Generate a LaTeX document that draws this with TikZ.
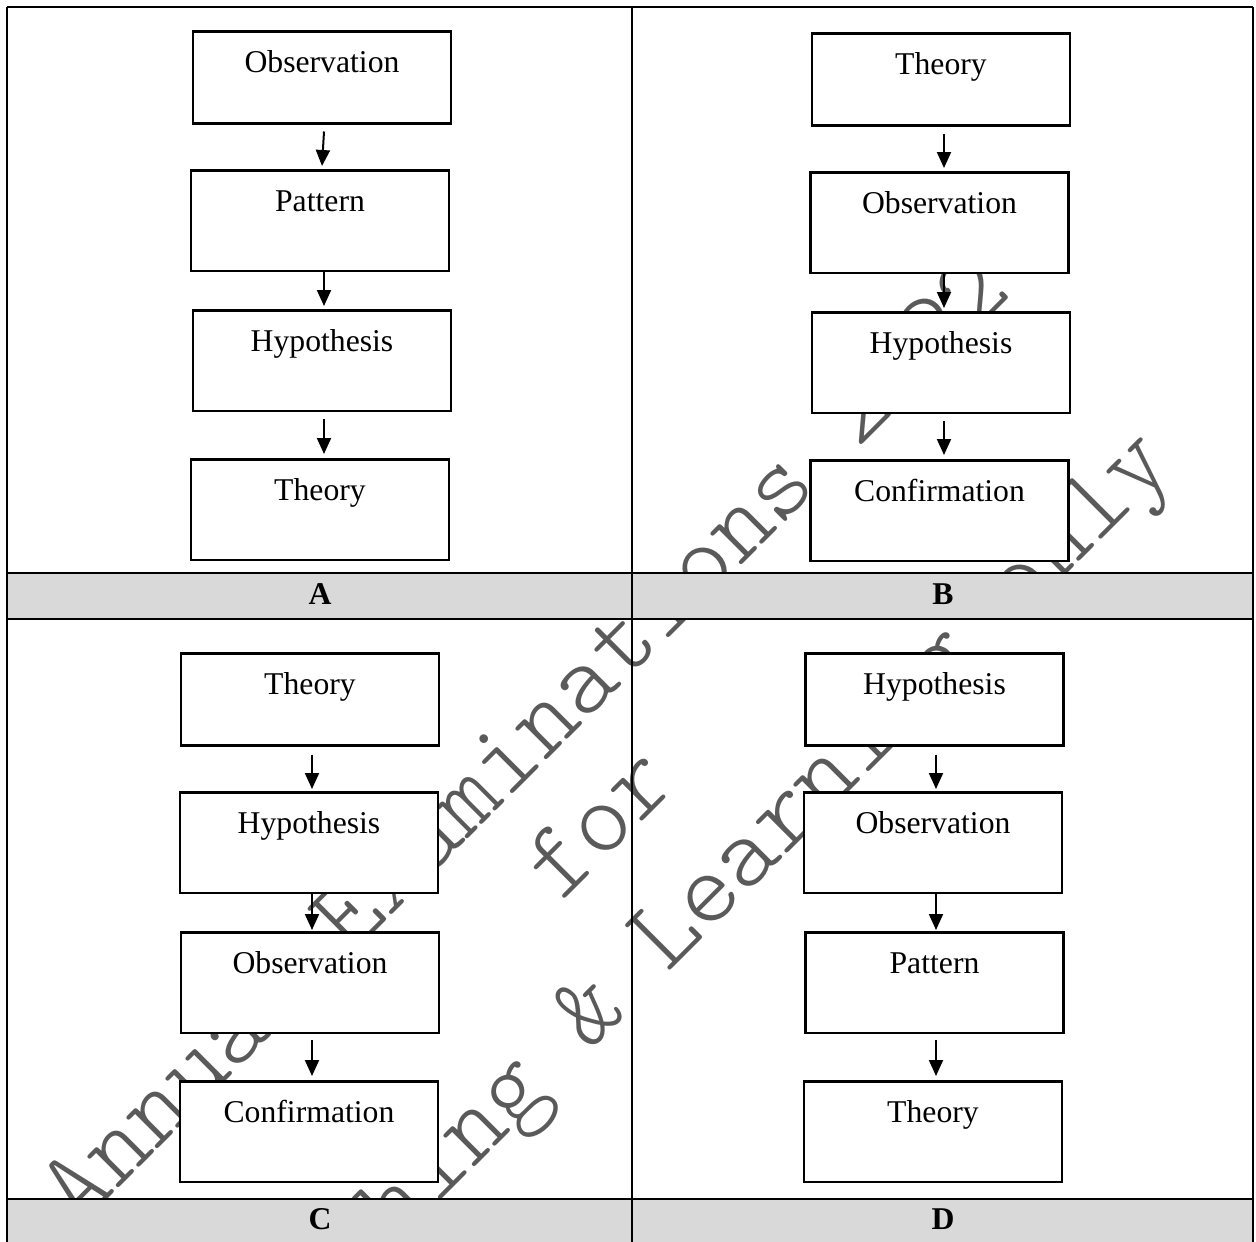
\documentclass[tikz,border=0pt]{standalone}
\usepackage{fontspec}
\setmainfont{Liberation Serif}
\newfontfamily\wmfont{lmmonolt10-regular.otf}
\usetikzlibrary{arrows.meta}
\definecolor{rowgray}{RGB}{217,217,217}
\definecolor{wmgray}{RGB}{90,90,90}
\begin{document}
\begin{tikzpicture}[x=1pt,y=-1pt,
  box/.style={draw, line width=2.5pt, fill=white, inner sep=0pt, minimum width=258pt,
    text height=41pt, text depth=59.5pt, anchor=north,
    font=\fontsize{31.7pt}{38pt}\selectfont},
  shortbox/.style={box, text depth=51pt},
  arr/.style={line width=2pt, -{Triangle[width=14pt,length=16pt]}},
  lbl/.style={font=\fontsize{31.7pt}{38pt}\selectfont\bfseries, anchor=base, inner sep=0pt},
  wm/.style={font=\fontsize{105pt}{105pt}\wmfont, text=wmgray, rotate=45, anchor=base west, inner sep=0pt},
  rule/.style={line width=2.5pt}]
\useasboundingbox (0,0) rectangle (1256,1242);
\clip (0,0) rectangle (1256,1242);
\fill[white] (0,0) rectangle (1256,1242);

% watermark
\node[wm] (w1) at (78,1229) {Annual Examinations 2022};
\node[wm] (w2) at (561,903) {for};
\node[wm] (w3) at (239,1402) {Teaching \& Learning only};

% table
\fill[rowgray] (7,573) rectangle (1253,619);
\fill[rowgray] (7,1199) rectangle (1253,1250);
\draw[rule] (7,7) -- (1253,7);
\draw[rule] (7,7) -- (7,1250);
\draw[rule] (1253,7) -- (1253,1250);
\draw[rule] (632,7) -- (632,1250);
\draw[rule] (7,573) -- (1253,573);
\draw[rule] (7,619) -- (1253,619);
\draw[rule] (7,1199) -- (1253,1199);

% panel A
\node[shortbox] (a1) at (322,30) {Observation};
\node[box] (a2) at (320,169) {Pattern};
\node[box] (a3) at (322,309) {Hypothesis};
\node[box] (a4) at (320,458) {Theory};
\draw[arr] ([xshift=2pt,yshift=-7pt]a1.south) -- ([xshift=2pt,yshift=3pt]a2.north);
\draw[arr] ([xshift=4pt]a2.south) -- ([xshift=2pt,yshift=3pt]a3.north);
\draw[arr] ([xshift=2pt,yshift=-7pt]a3.south) -- ([xshift=4pt,yshift=4pt]a4.north);

% panel B
\node[shortbox] (b1) at (941,32) {Theory};
\node[box] (b2) at (939.5,171) {Observation};
\node[box] (b3) at (941,311) {Hypothesis};
\node[box] (b4) at (939.5,459) {Confirmation};
\draw[arr] ([xshift=3pt,yshift=-7pt]b1.south) -- ([xshift=4.5pt,yshift=3pt]b2.north);
\draw[arr] ([xshift=4.5pt]b2.south) -- ([xshift=3pt,yshift=3pt]b3.north);
\draw[arr] ([xshift=3pt,yshift=-7pt]b3.south) -- ([xshift=4.5pt,yshift=4pt]b4.north);

% panel C
\node[shortbox] (c1) at (310,652) {Theory};
\node[box] (c2) at (309,791) {Hypothesis};
\node[box] (c3) at (310,931) {Observation};
\node[box] (c4) at (309,1080) {Confirmation};
\draw[arr] ([xshift=2pt,yshift=-8pt]c1.south) -- ([xshift=3pt,yshift=2pt]c2.north);
\draw[arr] ([xshift=3pt]c2.south) -- ([xshift=2pt,yshift=1pt]c3.north);
\draw[arr] ([xshift=2pt,yshift=-6pt]c3.south) -- ([xshift=3pt,yshift=4pt]c4.north);

% panel D
\node[shortbox] (d1) at (934.5,652) {Hypothesis};
\node[box] (d2) at (933,791) {Observation};
\node[box] (d3) at (934.5,931) {Pattern};
\node[box] (d4) at (933,1080) {Theory};
\draw[arr] ([xshift=1.5pt,yshift=-8pt]d1.south) -- ([xshift=3pt,yshift=2pt]d2.north);
\draw[arr] ([xshift=3pt]d2.south) -- ([xshift=1.5pt,yshift=1pt]d3.north);
\draw[arr] ([xshift=1.5pt,yshift=-6pt]d3.south) -- ([xshift=3pt,yshift=4pt]d4.north);

% labels
\node[lbl] (la) at (320,604) {A};
\node[lbl] (lb) at (943,604) {B};
\node[lbl] (lc) at (320,1229) {C};
\node[lbl] (ld) at (943,1229) {D};
\end{tikzpicture}
\end{document}
